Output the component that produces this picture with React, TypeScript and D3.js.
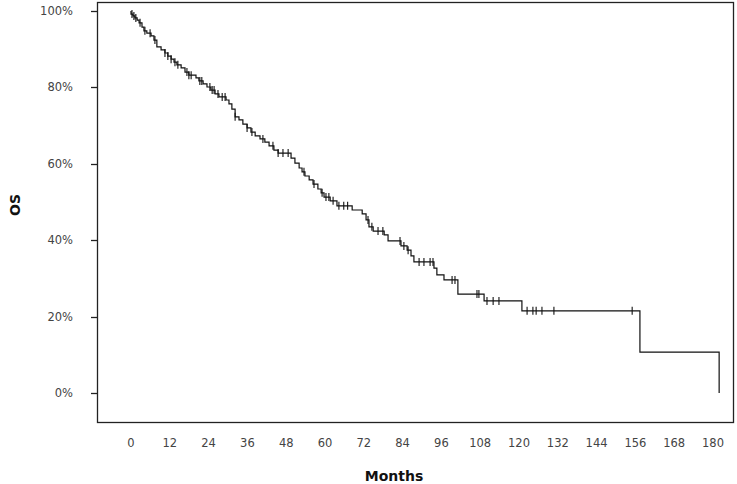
import React from "react";
import * as d3 from "d3";

// Kaplan-Meier steps: month of event and survival (%) after it
const eventMonths = [0.0, 0.6, 1.2, 1.9, 2.5, 3.4, 4.0, 4.9, 6.2, 7.1, 8.0, 9.3, 10.5, 11.4, 12.4, 13.3, 14.2, 15.5, 16.7, 17.9, 20.1, 21.0, 22.3, 23.5, 24.7, 26.0, 27.2, 29.4, 30.3, 31.2, 32.2, 33.4, 34.6, 35.9, 37.1, 38.4, 39.9, 41.4, 42.7, 44.2, 45.5, 49.5, 50.7, 52.0, 52.9, 53.8, 55.1, 56.3, 57.8, 58.8, 59.7, 61.6, 63.7, 68.4, 71.5, 72.7, 73.6, 74.9, 78.3, 79.5, 83.5, 85.4, 86.6, 87.5, 93.7, 94.6, 96.8, 101.1, 109.2, 120.9, 157.4, 181.9];
const eventSurvival = [99.2, 98.7, 98.2, 97.6, 96.9, 95.8, 94.8, 94.2, 93.5, 92.4, 90.6, 89.8, 89.0, 88.2, 87.4, 86.6, 85.9, 85.1, 84.0, 83.2, 82.5, 81.7, 80.9, 80.1, 79.3, 78.3, 77.5, 76.7, 75.7, 74.3, 72.3, 71.5, 70.4, 69.4, 68.3, 67.3, 66.5, 65.7, 64.7, 63.6, 62.8, 61.5, 60.2, 58.9, 57.9, 56.8, 55.8, 54.7, 53.4, 52.4, 51.3, 50.3, 49.0, 47.9, 46.9, 45.3, 43.5, 42.4, 41.4, 39.8, 38.5, 37.4, 35.9, 34.3, 32.7, 30.9, 29.6, 25.9, 24.1, 21.5, 10.7, 0];
// Censored observations (months)
const censorMonths = [0.3, 0.9, 1.5, 2.8, 4.3, 5.9, 7.4, 10.5, 11.4, 12.4, 13.6, 14.5, 17.3, 17.9, 18.6, 21.3, 21.9, 24.4, 25.1, 25.7, 26.9, 28.2, 29.1, 32.2, 35.9, 37.4, 40.8, 43.9, 45.5, 47.0, 48.6, 53.5, 56.6, 59.1, 60.3, 61.2, 62.5, 64.3, 65.8, 67.0, 73.3, 74.5, 76.4, 77.9, 83.2, 84.4, 85.7, 89.1, 90.6, 92.5, 93.4, 99.3, 100.2, 107.0, 107.6, 110.1, 112.0, 113.8, 122.5, 124.3, 125.3, 127.1, 130.8, 155.0];

const xTicks = [0, 12, 24, 36, 48, 60, 72, 84, 96, 108, 120, 132, 144, 156, 168, 180];
const yTicks = [0, 20, 40, 60, 80, 100];

export default function App() {
  const W = 737, H = 484;
  const x = d3.scaleLinear().domain([0, 180]).range([131, 713]);
  const y = d3.scaleLinear().domain([0, 100]).range([393, 11]);

  const pts: [number, number][] = [[0, 100], ...eventMonths.map((m, i) => [m, eventSurvival[i]] as [number, number])];
  const line = d3.line<[number, number]>().x(d => x(d[0])).y(d => y(d[1])).curve(d3.curveStepAfter);

  const survAt = (t: number) => {
    let s = 100;
    for (let i = 0; i < eventMonths.length; i++) {
      if (eventMonths[i] <= t) s = eventSurvival[i];
      else break;
    }
    return s;
  };

  const font = "'DejaVu Sans', Verdana, sans-serif";

  return (
    <svg width={W} height={H} style={{ position: "absolute", left: 0, top: 0, background: "#fff" }}>
      <rect x={97.5} y={2.5} width={636} height={420} fill="none" stroke="#222" strokeWidth={1.3} />
      {yTicks.map(t => (
        <g key={t}>
          <line x1={91} x2={97} y1={Math.round(y(t)) + 0.5} y2={Math.round(y(t)) + 0.5} stroke="#222" strokeWidth={1.3} />
          <text x={73} y={y(t)} dy="0.35em" textAnchor="end" fontFamily={font} fontSize={11.5} fill="#444">{t}%</text>
        </g>
      ))}
      {xTicks.map(t => (
        <text key={t} x={x(t)} y={443} dy="0.35em" textAnchor="middle" fontFamily={font} fontSize={11.5} fill="#444">{t}</text>
      ))}
      <path d={line(pts) || ""} fill="none" stroke="#111" strokeWidth={1.2} />
      {censorMonths.map((m, i) => {
        const cx = x(m), cy = y(survAt(m));
        return <line key={i} x1={cx} x2={cx} y1={cy - 4} y2={cy + 4} stroke="#111" strokeWidth={1.1} />;
      })}
      <text x={394} y={481} textAnchor="middle" fontFamily={font} fontWeight="bold" fontSize={14} fill="#111">Months</text>
      <text transform="translate(20,205) rotate(-90)" textAnchor="middle" fontFamily={font} fontWeight="bold" fontSize={14} fill="#111">OS</text>
    </svg>
  );
}
